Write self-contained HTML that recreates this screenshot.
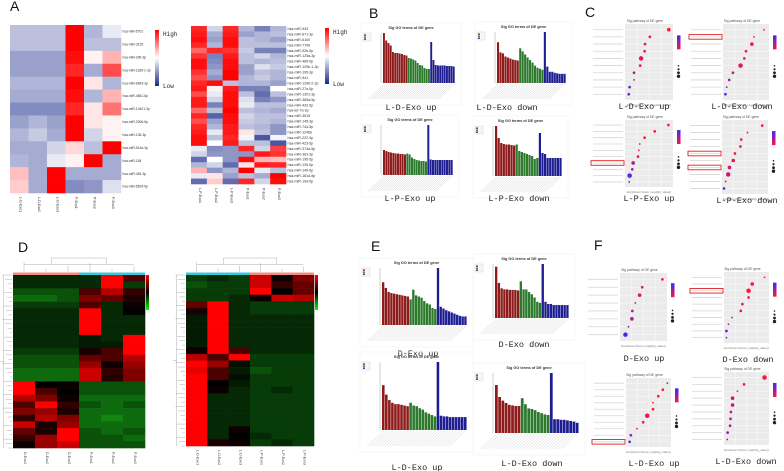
<!DOCTYPE html>
<html><head><meta charset="utf-8">
<style>
html,body{margin:0;padding:0;background:#fff;}
svg{display:block;font-family:"Liberation Sans",sans-serif;}
.lab{font-family:"Liberation Mono",monospace;font-size:8.5px;fill:#222;}
.panel{font-size:14px;fill:#111;}
</style></head>
<body>
<svg id="fig" width="784" height="471" viewBox="0 0 784 471">
<rect width="784" height="471" fill="#fff"/>
<text class="panel" x="10" y="11">A</text>
<text class="panel" x="369" y="18">B</text>
<text class="panel" x="585" y="17">C</text>
<text class="panel" x="18" y="252">D</text>
<text class="panel" x="371" y="251">E</text>
<text class="panel" x="594" y="250">F</text>
</svg>
<script>
// ---------- DATA ----------
const aLeftRows = ["hsa-miR-5701","hsa-miR-3125","hsa-miR-299-3p","hsa-miR-1185-1-3p","hsa-miR-6843-3p","hsa-miR-4661-5p","hsa-miR-10401-3p","hsa-miR-200b-5p","hsa-miR-136-3p","hsa-miR-514a-3p","hsa-miR-184","hsa-miR-454-3p","hsa-miR-6529-5p"];
const aLeftCols = ["L-D-Exo1","L-D-Exo2","L-D-Exo3","P-Exo1","P-Exo2","P-Exo3"];
const aLeftVals = [
[-0.3,-0.3,-0.3,1,-0.35,-0.1],[-0.3,-0.3,-0.3,1,-0.3,-0.3],[-0.45,-0.45,-0.45,0.95,0.05,0.3],
[-0.45,-0.45,-0.45,0.85,-0.4,0.7],[-0.35,-0.35,-0.35,1,0.1,-0.35],[-0.4,-0.4,-0.4,0.95,-0.35,0.3],
[-0.55,-0.55,-0.55,0.85,0.1,0.55],[-0.45,-0.35,-0.45,1,0.1,0.05],[-0.35,-0.25,-0.4,1,-0.2,0.05],
[-0.4,-0.4,-0.2,0.15,-0.3,1],[-0.35,-0.4,-0.1,0.05,1,-0.4],[0.25,-0.4,1,-0.4,-0.4,-0.4],[0.2,-0.4,1,-0.55,-0.5,-0.15]];
const aRightRows = ["hsa-miR-543","hsa-miR-671-3p","hsa-miR-6100","hsa-miR-7706","hsa-miR-92b-5p","hsa-miR-125a-3p","hsa-miR-485-5p","hsa-miR-125b-1-3p","hsa-miR-195-3p","hsa-miR-941","hsa-miR-129b-2-3p","hsa-miR-27a-5p","hsa-miR-1301-3p","hsa-miR-365a-5p","hsa-miR-432-5p","hsa-let-7a-3p","hsa-miR-3615","hsa-miR-145-3p","hsa-miR-744-5p","hsa-miR-1246b","hsa-miR-222-3p","hsa-miR-423-5p","hsa-miR-374a-5p","hsa-miR-363-3p","hsa-miR-195-5p","hsa-miR-139-5p","hsa-miR-149-5p","hsa-miR-181d-5p","hsa-miR-194-5p"];
const aRightCols = ["L-P-Exo1","L-P-Exo2","L-P-Exo3","P-Exo1","P-Exo2","P-Exo3"];
const aRightVals = [
[0.85,-0.2,0.85,-0.35,-0.6,-0.35],[0.9,-0.4,0.9,-0.45,-0.35,-0.3],[0.95,-0.45,0.95,-0.3,-0.35,-0.45],
[0.85,-0.35,0.95,-0.3,-0.3,-0.3],[0.6,0.85,0.8,-0.25,-0.6,-0.6],[0.8,-0.6,0.9,-0.3,-0.2,-0.35],
[0.95,-0.55,0.95,-0.3,-0.35,-0.3],[0.95,-0.5,0.95,-0.45,-0.15,-0.25],[0.8,-0.4,1,-0.45,-0.3,-0.35],
[0.7,-0.5,1,-0.35,-0.25,-0.35],[0.85,0.95,-0.3,-0.35,-0.35,-0.45],[0.9,0.05,0.9,-0.6,-0.6,0],
[0.7,-0.1,0.95,-0.3,-0.7,-0.3],[0.9,-0.2,0.95,-0.15,-0.6,-0.5],[0.9,-0.6,0.95,-0.1,-0.3,-0.3],
[0.6,-0.3,1,-0.3,-0.35,-0.4],[0.85,-0.75,0.95,-0.2,-0.3,-0.3],[0.7,-0.45,0.95,-0.25,-0.3,-0.35],
[0.85,-0.35,0.9,-0.3,-0.35,-0.5],[0.9,-0.1,0.9,0.1,-0.3,-0.5],[0.95,-0.3,0.85,-0.05,-0.8,-0.05],
[0.95,0,0.9,-0.3,-0.3,-0.8],[-0.1,-0.55,-0.5,0.85,-0.2,0.75],[-0.2,-0.5,-0.5,-0.5,0.9,0.8],
[-0.7,0,-0.5,0.95,0.3,0.25],[-0.35,-0.2,-0.7,0.1,0.9,0.85],[0.3,-0.5,-0.35,1,-0.1,-0.3],
[-0.1,0.1,-0.45,-0.3,-0.4,1],[-0.7,0.2,-0.7,0.85,-0.2,0.95]];

const dLeftCols = ["D-Exo1","D-Exo2","D-Exo3","P-Exo1","P-Exo2","P-Exo3"];
const dLeftVals = [
[-0.5,-0.5,-0.5,-0.5,1,0.3],[-0.5,-0.5,-0.5,-0.5,1,-0.6],[-0.7,-0.7,-0.7,0.3,0.7,0.2],[-0.8,-0.8,-0.7,0.5,0.4,0.1],
[-0.6,-0.6,-0.6,0.3,-0.5,0.05],[-0.5,-0.5,-0.5,1,-0.5,0],[-0.5,-0.5,-0.5,1,-0.5,-0.5],[-0.5,-0.5,-0.5,1,-0.5,-0.5],
[-0.5,-0.5,-0.5,1,-0.5,-0.5],[-0.5,-0.5,-0.5,-0.4,-0.5,1],[-0.5,-0.5,-0.5,-0.4,-0.4,1],[-0.6,-0.6,-0.6,0.1,0.3,1],
[-0.7,-0.7,-0.7,0.4,0.3,0.7],[-0.7,-0.7,-0.7,0.6,0.05,0.6],[-0.8,-0.8,-0.8,0.8,0.2,0.5],[-0.8,-0.8,-0.8,0.8,0.15,0.5],
[1,0,0.05,-0.7,-0.7,-0.7],[1,0.3,0,-0.7,-0.7,-0.7],[0.7,0.5,0.05,-0.8,-0.8,-0.8],[0.3,1,0.2,-0.7,-0.8,-0.7],
[0.5,0.6,0.1,-0.8,-0.8,-0.8],[0.2,0.7,0.5,-0.8,-0.9,-0.8],[0.8,0.1,0.6,-0.8,-0.8,-0.8],[0.4,0.1,1,-0.7,-0.8,-0.7],
[0.2,0.6,1,-0.7,-0.7,-0.8],[0.05,0.6,0.8,-0.7,-0.7,-0.7]];
const dRightCols = ["L-D-Exo1","L-D-Exo2","L-D-Exo3","L-P-Exo1","L-P-Exo2","L-P-Exo3"];
const dRightVals = [
[-0.6,-0.5,-0.6,0.8,0.05,0.5],[-0.7,-0.6,-0.6,0.8,0.2,0.4],[-0.6,-0.6,-0.6,1,0,0.4],[-0.6,-0.6,-0.5,0.05,0.8,0.7],
[0.4,1,-0.5,-0.6,-0.6,-0.6],[0.1,1,-0.5,-0.6,-0.6,-0.6],[-0.4,1,-0.5,-0.5,-0.5,-0.5],[-0.4,1,-0.5,-0.5,-0.5,-0.5],
[-0.4,1,-0.5,-0.5,-0.5,-0.5],[-0.4,1,-0.5,-0.5,-0.5,-0.5],[-0.4,1,-0.5,-0.5,-0.5,-0.5],[0.05,1,0.3,-0.5,-0.5,-0.5],
[0.7,0.3,1,-0.6,-0.6,-0.6],[1,0.6,-0.3,-0.6,-0.6,-0.6],[0.9,0.3,-0.4,-0.7,-0.6,-0.6],[1,0.3,-0.3,-0.6,-0.6,-0.6],
[1,0,-0.4,-0.6,-0.6,-0.6],[1,0.05,-0.5,-0.6,-0.5,-0.6],[1,-0.5,-0.5,-0.6,-0.6,-0.6],[1,-0.5,-0.5,-0.6,-0.6,-0.6],
[1,-0.5,-0.5,-0.6,-0.6,-0.6],[1,-0.5,-0.5,-0.6,-0.6,-0.6],[1,-0.5,-0.5,-0.6,-0.6,-0.6],[1,-0.5,0.05,-0.6,-0.6,-0.6],
[1,-0.5,0,-0.5,-0.6,-0.6],[1,0.1,0.05,-0.6,-0.5,-0.6]];

// GO bar charts: red (BP), green (CC), blue (MF) enrichment scores
const bTLred=[10,8.5,8,7.5,6.2,6,6,5.9,5.8,5.6,5.5], bTLgreen=[5,4.9,4.7,4.5,4,3.6,3.5,3,2.8,2.8], bTLblue=[8.2,4.6,3.6,3.5,3.5,3.5,3.5,3.4,3.4,3.4,3.3];
const bTRred=[8,6,5.8,5.2,5,4.8,4.6,4.5,4.4], bTRgreen=[6.8,6.2,5.6,5,4.5,4,3.4,3,2.8,2.6], bTRblue=[10,3.2,2.2,2.2,2,1.9,1.8,1.8,1.8];
const bBLred=[5,4.8,4.6,4.5,4.4,4.3,4.3,4.2,4.2,4.1], bBLgreen=[4.3,4.1,3.5,3.2,3,2.9,2.8,2.8,2.7], bBLblue=[10,3.1,3,3,3,3,3,3,3,3,3];
const bBRred=[10,7.6,6.6,6.4,6.3,6.3,6.2,6.1], bBRgreen=[6.3,5,4.8,4.6,4.4,4.2,4,3.4,3.6], bBRblue=[8.6,4.6,4.4,3.6,3.6,3.6,3.6,3.6,3.6];
const eTLred=[7.5,6.5,5.8,5.6,5.5,5.4,5.3,5.2,5.1,5], eTLgreen=[4.5,6.2,5.2,5,4.8,4.2,3.8,3.6,3,2.8], eTLblue=[10,3.2,2.9,2.6,2.4,2.2,2,1.8,1.6,1.5,1.5];
const eTRred=[9.5,6.5,5.5,5.3,5.3,5.2,5.2,5.2,5.1], eTRgreen=[6.8,5.3,5.3,4.8,4.4,3.8,3,2.8], eTRblue=[10,3,2.6,2.6,2.4,2.4,2.4,2.4,2.4,2.4];
const eBLred=[6.6,5.2,4.4,4,3.8,3.8,3.7,3.6,3.5], eBLgreen=[4,3.6,3.5,3.2,3,2.6,2.4,2.2,2], eBLblue=[10,2.1,2,2,1.9,1.9,1.9,1.9,1.9,1.9];
const eBRred=[8,6,5.4,5,4.7,4.6,4.5,4.5], eBRgreen=[5.8,4.8,4.1,4,3.8,3.5,3.3,3.1,3], eBRblue=[10,2.3,2.3,2.2,2.2,2.1,2,1.9,1.7];

// KEGG dot plots: rich factor (0..1 of axis), count size, q-value colour (1=red)
const cTLx=[0.95,0.52,0.41,0.4,0.32,0.3,0.16,0.16,0.06,0.04], cTLs=[2,1.5,1.5,1.5,2.5,1.5,1.5,1,1.5,1.5], cTLc=[1,0.9,0.85,0.85,0.85,0.85,0.6,0.7,0.2,0.2];
const cTRx=[0.93,0.69,0.64,0.5,0.46,0.37,0.19,0.1,0.04,0.01], cTRs=[1,1,2,1.5,1.5,2.5,1.5,1.5,1,1.5], cTRc=[1,0.95,1,0.9,0.9,0.85,0.6,0.5,0.3,0.1];
const cBLx=[0.94,0.63,0.4,0.29,0.27,0.25,0.14,0.12,0.06,0.05], cBLs=[1.5,1.5,1.5,1,1,1.5,2,1.5,2.5,1], cBLc=[1,1,0.95,0.9,0.9,0.8,0.6,0.5,0.1,0.2];
const cBRx=[0.91,0.56,0.41,0.39,0.26,0.22,0.13,0.1,0.04,0], cBRs=[1.5,1,1.5,1.5,1.5,2,2,2.5,1,1.5], cBRc=[1,0.95,0.95,0.95,0.9,0.9,0.8,0.7,0.4,0.1];
const fTLx=[0.94,0.47,0.41,0.31,0.24,0.23,0.15,0.08], fTLs=[1.5,1.5,2,1,1.5,2,1,2.5], fTLc=[1,0.85,0.75,0.8,0.6,0.55,0.4,0.05];
const fTRx=[0.94,0.64,0.55,0.55,0.4,0.36,0.15,0.06,0.01,0.01], fTRs=[1,2,2.5,1.5,1.5,1.5,1,1,1.5,1], fTRc=[1,1,1,1,0.95,0.9,0.7,0.5,0.1,0.15];
const fBLx=[0.96,0.85,0.74,0.61,0.61,0.47,0.37,0.22,0.07,0.04], fBLs=[1,1.5,1.5,1,1.5,2.5,1.5,1,1.5,1.5], fBLc=[1,1,1,1,1,0.95,0.9,0.8,0.4,0.1];
const fBRx=[0.94,0.44,0.28,0.16,0.16,0.12,0.11,0.1,0.04,0.03], fBRs=[2.5,1.5,1,2,2,1.5,1.5,1.5,1.5,1], fBRc=[1,1,0.9,0.7,0.7,0.65,0.6,0.55,0.35,0.25];

// ---------- HELPERS ----------
const NS="http://www.w3.org/2000/svg";
const svg=document.getElementById('fig');
function mk(tag,attrs,parent){const e=document.createElementNS(NS,tag);for(const k in attrs)e.setAttribute(k,attrs[k]);(parent||svg).appendChild(e);return e;}
function grp(name){const g=mk('g',{});


return g;}
function lerp(a,b,t){return Math.round(a+(b-a)*t);}
function bwr(v){v=Math.max(-1,Math.min(1,v));
 if(v>=0)return `rgb(255,${lerp(255,0,v)},${lerp(255,0,v)})`;
 const t=-v;return `rgb(${lerp(255,30,t)},${lerp(255,45,t)},${lerp(255,140,t)})`;}
function gkr(v){v=Math.max(-1,Math.min(1,v));
 if(v>=0)return `rgb(${lerp(0,255,v)},0,0)`;
 const t=-v;const k=t*t;return `rgb(${lerp(0,20,k)},${lerp(0,165,k)},${lerp(0,20,k)})`;}
function brc(t){return `rgb(${lerp(60,255,t)},${lerp(40,20,t)},${lerp(255,60,t)})`;}

// ---------- PANEL A HEATMAPS ----------
function heatA(name,x,y,w,h,rows,cols,vals,fs,cbx,cby){
 const g=grp(name);
 const cw=w/cols.length, rh=h/vals.length;
 vals.forEach((row,i)=>row.forEach((v,j)=>{
  const r=mk('rect',{x:x+j*cw,y:y+i*rh,width:cw+0.3,height:rh+0.3,fill:bwr(v)},g);
  
  
 }));
 rows.forEach((n,i)=>{
  const t=mk('text',{x:x+w+1.5,y:y+i*rh+rh/2+fs*0.35,'font-size':fs,fill:'#333'},g);t.textContent=n;
  
  
 });
 cols.forEach((c,j)=>{
  const cx=x+j*cw+cw/2, cy=y+h+4;
  const t=mk('text',{x:cx,y:cy,'font-size':3.6,fill:'#333',transform:`rotate(90 ${cx} ${cy})`},g);t.textContent=c;
  
  
 });
 const defs=mk('defs',{},g);
 const id=name+'-grad';
 const lg=mk('linearGradient',{id:id,x1:0,y1:0,x2:0,y2:1},defs);
 mk('stop',{offset:'0','stop-color':'#ff0000'},lg);mk('stop',{offset:'0.5','stop-color':'#ffffff'},lg);mk('stop',{offset:'1','stop-color':'#1a2a80'},lg);
 const cb=mk('rect',{x:cbx,y:cby,width:4,height:56,fill:`url(#${id})`},g);
 
 
 const hi=mk('text',{x:cbx+8,y:cby+6,'font-size':6,fill:'#222','font-family':'Liberation Mono'},g);hi.textContent='High';
 
 
 const lo=mk('text',{x:cbx+8,y:cby+58,'font-size':6,fill:'#222','font-family':'Liberation Mono'},g);lo.textContent='Low';
 
 
}
heatA('heatmap-a-left',10,25,111,168,aLeftRows,aLeftCols,aLeftVals,3.3,155,30);
heatA('heatmap-a-right',191,26,95,158,aRightRows,aRightCols,aRightVals,3.6,325,28);

// ---------- PANEL D HEATMAPS ----------
function dendro(g,x,y,w,h,horizontal,n){
 let d='';
 for(let i=0;i<n;i++){
  const f=i/(n-1);
  if(horizontal){const px=x+f*w;d+=`M${px},${y+h} V${y+h*(0.3+0.6*((i*37)%10)/10)} `;}
  else{const py=y+f*h;d+=`M${x+w},${py} H${x+w*(0.2+0.7*((i*53)%10)/10)} `;}
 }
 if(horizontal){d+=`M${x},${y+h*0.45} H${x+w} M${x+w*0.25},${y} V${y+h*0.45} M${x+w*0.75},${y} V${y+h*0.45} M${x+w*0.25},${y} H${x+w*0.75}`;}
 else{d+=`M${x+w*0.3},${y} V${y+h} M${x},${y+h*0.5} H${x+w*0.3}`;}
 const p=mk('path',{d:d,stroke:'#999','stroke-width':0.4,fill:'none'},g);
 
 
}
function heatD(name,x,y,w,h,cols,vals,bar1,bar2,cbx){
 const g=grp(name);
 const cw=w/cols.length, rh=h/vals.length;
 vals.forEach((row,i)=>row.forEach((v,j)=>{
  const r=mk('rect',{x:x+j*cw,y:y+i*rh,width:cw+0.3,height:rh+0.3,fill:gkr(v)},g);
  
  
 }));
 const s1=mk('rect',{x:x,y:y-2.5,width:w/2,height:2.5,fill:bar1},g);
 
 
 const s2=mk('rect',{x:x+w/2,y:y-2.5,width:w/2,height:2.5,fill:bar2},g);
 
 
 dendro(g,x+cw/2,y-17,w-cw,14,true,6);
 dendro(g,x-13,y,12,h,false,40);
 cols.forEach((c,j)=>{
  const cx=x+j*cw+cw/2, cy=y+h+4;
  const t=mk('text',{x:cx,y:cy,'font-size':3.6,fill:'#444',transform:`rotate(90 ${cx} ${cy})`},g);t.textContent=c;
  
  
 });
 const defs=mk('defs',{},g);const id=name+'-grad';
 const lg=mk('linearGradient',{id:id,x1:0,y1:0,x2:0,y2:1},defs);
 mk('stop',{offset:'0','stop-color':'#ff0000'},lg);mk('stop',{offset:'0.5','stop-color':'#000'},lg);mk('stop',{offset:'1','stop-color':'#00ff00'},lg);
 const cb=mk('rect',{x:cbx,y:y,width:3,height:35,fill:`url(#${id})`},g);
 
 
}
heatD('heatmap-d-left',13,275,132,173,dLeftCols,dLeftVals,'#f08c80','#38c8d8',146);
heatD('heatmap-d-right',186,275,128,171,dRightCols,dRightVals,'#38c8d8','#f08c80',315);

// ---------- GO BAR CHARTS ----------
function barChart(name,x0,x1,base,maxH,red,green,blue,label,lx,ly){
 const g=grp(name);
 const fr=mk('rect',{x:x0-22,y:base-maxH-10,width:x1-x0+28,height:maxH+32,fill:'none',stroke:'#f2f2f2','stroke-width':0.6},g);
 
 
 const all=[].concat(red.map(v=>[v,'#8e1b1b']),green.map(v=>[v,'#2d7a2d']),blue.map(v=>[v,'#1e1e92']));
 const bw=(x1-x0)/all.length;
 const ys=v=>base-v/10*maxH;
 all.forEach((b,i)=>{
  const bx=x0+i*bw+bw/2;
  const l=mk('line',{x1:bx,y1:base+1,x2:bx-16,y2:base+16,stroke:'#cfcfcf','stroke-width':0.5},g);
  
  
 });
 all.forEach((b,i)=>{
  const r=mk('rect',{x:x0+i*bw,y:ys(b[0]),width:bw*0.85,height:base-ys(b[0]),fill:b[1]},g);
  
  
 });
 const ax=mk('line',{x1:x0-2,y1:base,x2:x0-2,y2:base-maxH,stroke:'#888','stroke-width':0.4},g);
 
 
 const lg=mk('rect',{x:x0-20,y:base-maxH,width:8,height:8,fill:'#f6f6f6',stroke:'#ccc','stroke-width':0.4},g);
 
 
 ['#8e1b1b','#2d7a2d','#1e1e92'].forEach((c,k)=>{const s=mk('rect',{x:x0-19,y:base-maxH+1.5+k*2,width:2,height:1.3,fill:c},g);
  
  });
 const tt=mk('text',{x:(x0+x1)/2-8,y:base-maxH-4,'font-size':3.8,'font-weight':'bold','text-anchor':'middle',fill:'#333'},g);tt.textContent='Sig GO terms of DE gene';
 
 
 const t=mk('text',{x:lx,y:ly,'text-anchor':'middle',class:'lab'},g);t.textContent=label;
 
 
}
barChart('go-bars-l-d-exo-up',383,455,83,50,bTLred,bTLgreen,bTLblue,'L-D-Exo up',411,110);
barChart('go-bars-l-d-exo-down',497,566,83,51,bTRred,bTRgreen,bTRblue,'L-D-Exo down',507,110);
barChart('go-bars-l-p-exo-up',383,453,175,50,bBLred,bBLgreen,bBLblue,'L-P-Exo up',410,201);
barChart('go-bars-l-p-exo-down',495,562,176,50,bBRred,bBRgreen,bBRblue,'L-P-Exo down',519,201);
barChart('go-bars-d-exo-up',382,467,325,57,eTLred,eTLgreen,eTLblue,'D-Exo up',418,356);
barChart('go-bars-d-exo-down',495,569,318,54,eTRred,eTRgreen,eTRblue,'D-Exo down',524,347);
barChart('go-bars-e-l-d-exo-up',382,467,430,68,eBLred,eBLgreen,eBLblue,'L-D-Exo up',417,470);
barChart('go-bars-e-l-d-exo-down',495,579,433,60,eBRred,eBRgreen,eBRblue,'L-D-Exo down',532,466);

// ---------- KEGG DOT PLOTS ----------
function dotPlot(name,x0,y0,w,h,xs,ss,cs,hl,label,lx,ly){
 const g=grp(name);
 const bg=mk('rect',{x:x0,y:y0,width:w,height:h,fill:'#ebebeb'},g);
 
 
 const n=xs.length, rh=h/(n+0.6);
 const xp=v=>x0+2+v*(w-4);
 [0.25,0.5,0.75].forEach(f=>{const l=mk('line',{x1:x0+f*w,y1:y0,x2:x0+f*w,y2:y0+h,stroke:'#fff','stroke-width':0.4},g);
  
  });
 xs.forEach((v,i)=>{
  const py=y0+rh*(i+0.8);
  const gl=mk('line',{x1:x0,y1:py,x2:x0+w,y2:py,stroke:'#fff','stroke-width':0.4},g);
  
  
  const tl=mk('line',{x1:x0-32,y1:py,x2:x0-2,y2:py,stroke:'#d6d6d6','stroke-width':0.8},g);
  
  
  const c=mk('circle',{cx:xp(v),cy:py,r:ss[i]*0.9,fill:brc(cs[i])},g);
  
  
  if(hl.indexOf(i)>=0){
   const b=mk('rect',{x:x0-34,y:py-2.3,width:33,height:4.6,fill:'none',stroke:'#e02020','stroke-width':0.9},g);
   
   
  }
 });
 const tt=mk('text',{x:x0+w/2-4,y:y0-2,'font-size':3.4,'text-anchor':'middle',fill:'#555'},g);tt.textContent='Sig pathway of DE gene';
 
 
 const xa=mk('text',{x:x0+w/2,y:y0+h+6,'font-size':2.8,'text-anchor':'middle',fill:'#777'},g);xa.textContent='Enrichment Score (-log10(p_value))';
 
 
 const defs=mk('defs',{},g);const id=name+'-grad';
 const lgr=mk('linearGradient',{id:id,x1:0,y1:0,x2:0,y2:1},defs);
 mk('stop',{offset:'0','stop-color':brc(0)},lgr);mk('stop',{offset:'1','stop-color':brc(1)},lgr);
 const cb=mk('rect',{x:x0+w+4,y:y0+h*0.15,width:3.5,height:14,fill:`url(#${id})`},g);
 
 
 [0.8,1.1,1.4,1.7].forEach((r,k)=>{const d=mk('circle',{cx:x0+w+5.5,cy:y0+h*0.55+k*3.5,r:r,fill:'#222'},g);
  
  });
 const t=mk('text',{x:lx,y:ly,'text-anchor':'middle',class:'lab'},g);t.textContent=label;
 
 
}
dotPlot('kegg-l-d-exo-up',625,24,48,76,cTLx,cTLs,cTLc,[],'L-D-Exo up',644,109);
dotPlot('kegg-l-d-exo-down',723,24,46,76,cTRx,cTRs,cTRc,[1],'L-D-Exo down',742,109);
dotPlot('kegg-l-p-exo-up',625,120,48,67,cBLx,cBLs,cBLc,[6],'L-P-Exo up',649,201);
dotPlot('kegg-l-p-exo-down',722,120,46,74,cBRx,cBRs,cBRc,[4,6],'L-P-Exo down',747,203);
dotPlot('kegg-d-exo-up',620,273,47,68,fTLx,fTLs,fTLc,[],'D-Exo up',644,361);
dotPlot('kegg-d-exo-down',724,272,45,71,fTRx,fTRs,fTRc,[2],'D-Exo down',748,362);
dotPlot('kegg-f-l-d-exo-up',626,378,45,69,fBLx,fBLs,fBLc,[9],'L-D-Exo up',654,466);
dotPlot('kegg-f-l-d-exo-down',724,372,45,73,fBRx,fBRs,fBRc,[],'L-D-Exo down',746,464);
</script>
</body></html>
